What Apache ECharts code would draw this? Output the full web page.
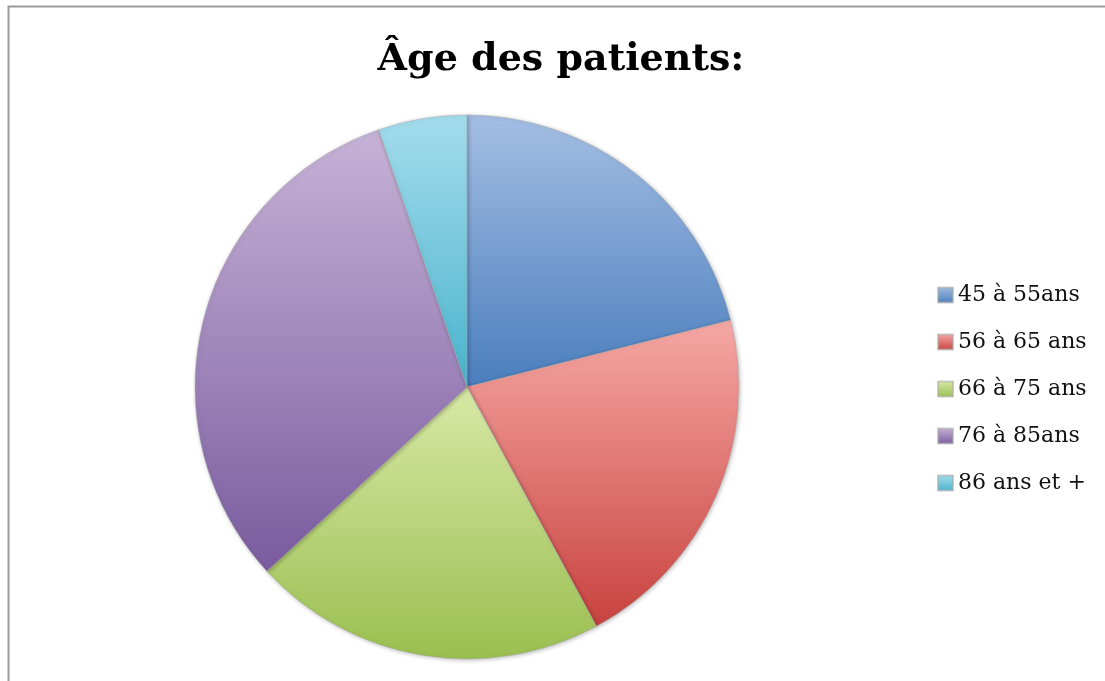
<!DOCTYPE html>
<html><head><meta charset="utf-8">
<script src="https://cdn.jsdelivr.net/npm/echarts@6/dist/echarts.min.js"></script>
<style>html,body{margin:0;padding:0;background:#fff}#c{width:1105px;height:681px}</style>
</head><body><div id="c"></div>
<script>
const categories = ['45 à 55ans', '56 à 65 ans', '66 à 75 ans', '76 à 85ans', '86 ans et +'];
const values = [4, 4, 4, 6, 1];
const topColors = ['#a4bee3', '#f6a8a5', '#d8e8a6', '#c6b3d6', '#a4ddec'];
const bottomColors = ['#4a7ebd', '#c8423e', '#9abf50', '#7a5b9f', '#4ab3ce'];

function grad(i){
  return {type:'linear',x:0,y:0,x2:0,y2:1,colorStops:[{offset:0,color:topColors[i]},{offset:1,color:bottomColors[i]}]};
}
const chart = echarts.init(document.getElementById('c'));
chart.setOption({
  animation:false,
  backgroundColor:'#fff',
  graphic:[{type:'rect',shape:{x:8.5,y:6.5,width:1200,height:800},style:{fill:null,stroke:'#9a9a9a',lineWidth:2}}],
  title:{text:'Âge des patients:',left:561,textAlign:'center',top:41,padding:0,
    textStyle:{fontFamily:'DejaVu Serif',fontWeight:'bold',fontSize:38,color:'#000'}},
  legend:{orient:'vertical',left:932,top:279,itemWidth:15,itemHeight:15,itemGap:25,icon:'rect',
    textStyle:{fontFamily:'DejaVu Serif',fontSize:22,color:'#111',padding:[0,0,0,0]},
    data:categories},
  series:[{type:'pie',center:[467,387],radius:272,startAngle:90,clockwise:true,
    label:{show:false},labelLine:{show:false},
    emphasis:{disabled:true},
    itemStyle:{borderColor:'rgba(170,170,170,0.6)',borderWidth:0.8,shadowColor:'rgba(0,0,0,0.25)',shadowBlur:4,shadowOffsetX:1,shadowOffsetY:1},
    data:categories.map((n,i)=>({name:n,value:values[i],itemStyle:{color:grad(i)}}))
  }]
});
</script></body></html>
